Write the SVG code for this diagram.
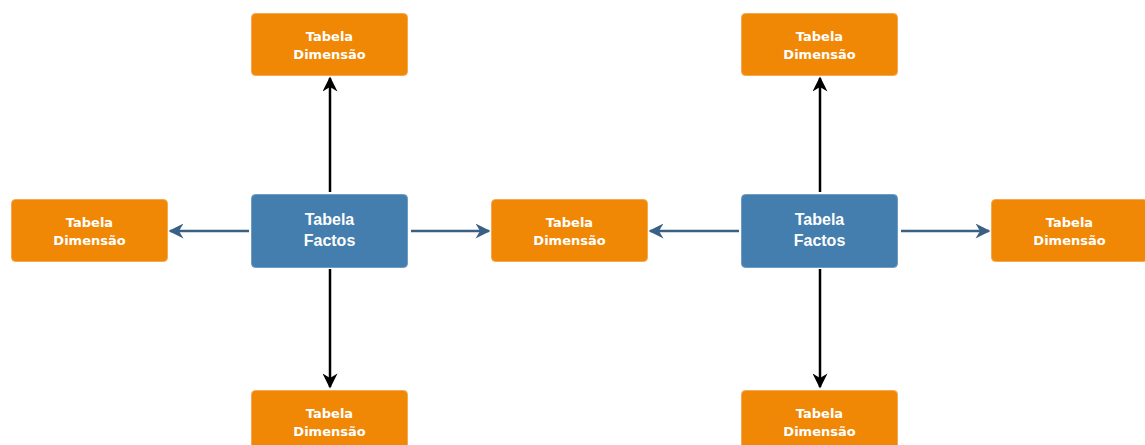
<svg xmlns="http://www.w3.org/2000/svg" width="1145" height="445" viewBox="0 0 1145 445">
<style>
.dim rect{fill:#F08705;stroke:#F5A94E;stroke-width:1}
.fact rect{fill:#437EAE;stroke:#6D9CC4;stroke-width:1}
.dim text{font-family:"DejaVu Sans",sans-serif;font-weight:bold;font-size:13px;fill:#fff;text-anchor:middle}
.fact text{font-family:"Liberation Sans",Arial,sans-serif;font-weight:bold;font-size:16px;fill:#fff;text-anchor:middle}
.blue{stroke:#3A6183;stroke-width:2.5;fill:none}
.black{stroke:#000;stroke-width:2.5;fill:none}
</style>
<defs>
<marker id="ab" viewBox="0 0 10 10" refX="9" refY="5" markerWidth="6.5" markerHeight="6" orient="auto" markerUnits="strokeWidth"><path d="M0,0 L10,5 L0,10 L3,5 Z" fill="#3A6183"/></marker>
<marker id="ak" viewBox="0 0 10 10" refX="9" refY="5" markerWidth="6.5" markerHeight="6" orient="auto" markerUnits="strokeWidth"><path d="M0,0 L10,5 L0,10 L3,5 Z" fill="#000"/></marker>
</defs>
<g id="connectors">
<line class="black" x1="330" y1="192" x2="330" y2="78" marker-end="url(#ak)"/>
<line class="black" x1="330" y1="269" x2="330" y2="387" marker-end="url(#ak)"/>
<line class="blue" x1="249" y1="231" x2="170" y2="231" marker-end="url(#ab)"/>
<line class="blue" x1="411" y1="231" x2="489" y2="231" marker-end="url(#ab)"/>
<line class="black" x1="820" y1="192" x2="820" y2="78" marker-end="url(#ak)"/>
<line class="black" x1="820" y1="269" x2="820" y2="387" marker-end="url(#ak)"/>
<line class="blue" x1="739" y1="231" x2="650" y2="231" marker-end="url(#ab)"/>
<line class="blue" x1="901" y1="231" x2="989" y2="231" marker-end="url(#ab)"/>
</g>
<g id="fact1" class="fact"><rect x="251.5" y="194.5" width="156" height="73" rx="4"/><text x="329.5" y="225">Tabela</text><text x="329.5" y="246">Factos</text></g>
<g id="fact2" class="fact"><rect x="741.5" y="194.5" width="156" height="73" rx="4"/><text x="819.5" y="225">Tabela</text><text x="819.5" y="246">Factos</text></g>
<g id="dim1" class="dim"><rect x="251.5" y="13.5" width="156" height="62" rx="4"/><text x="329.5" y="41">Tabela</text><text x="329.5" y="59">Dimensão</text></g>
<g id="dim2" class="dim"><rect x="11.5" y="199.5" width="156" height="62" rx="4"/><text x="89.5" y="227">Tabela</text><text x="89.5" y="245">Dimensão</text></g>
<g id="dim3" class="dim"><rect x="491.5" y="199.5" width="156" height="62" rx="4"/><text x="569.5" y="227">Tabela</text><text x="569.5" y="245">Dimensão</text></g>
<g id="dim4" class="dim"><rect x="251.5" y="390.5" width="156" height="62" rx="4"/><text x="329.5" y="418">Tabela</text><text x="329.5" y="436">Dimensão</text></g>
<g id="dim5" class="dim"><rect x="741.5" y="13.5" width="156" height="62" rx="4"/><text x="819.5" y="41">Tabela</text><text x="819.5" y="59">Dimensão</text></g>
<g id="dim6" class="dim"><rect x="991.5" y="199.5" width="156" height="62" rx="4"/><text x="1069.5" y="227">Tabela</text><text x="1069.5" y="245">Dimensão</text></g>
<g id="dim7" class="dim"><rect x="741.5" y="390.5" width="156" height="62" rx="4"/><text x="819.5" y="418">Tabela</text><text x="819.5" y="436">Dimensão</text></g>
</svg>
